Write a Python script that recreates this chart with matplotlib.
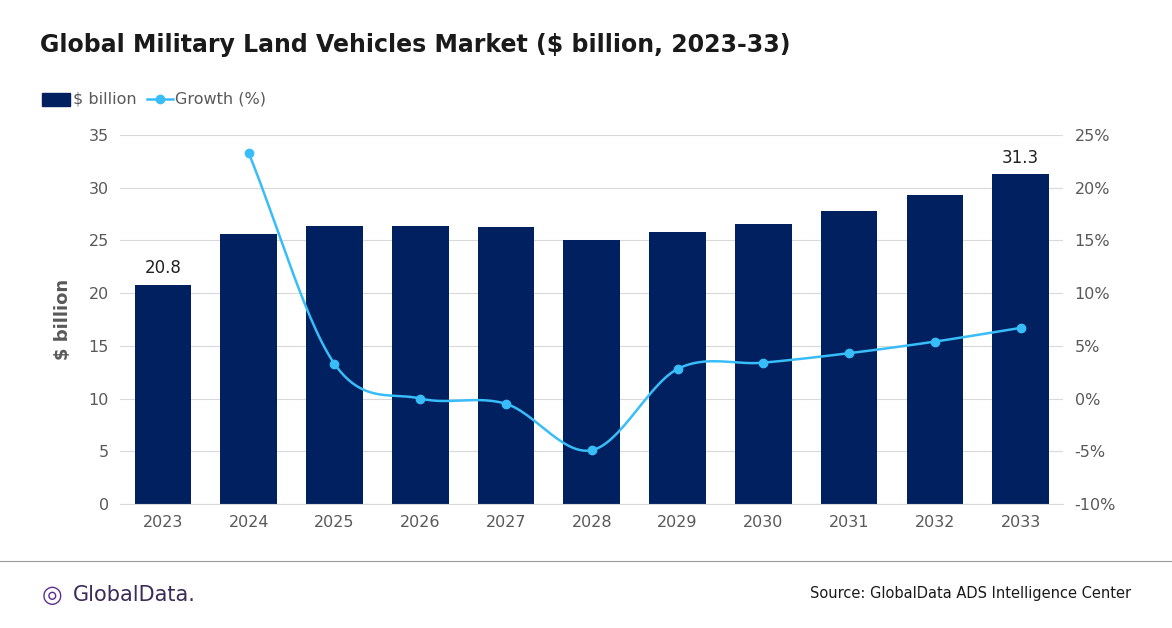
import matplotlib
matplotlib.use('Agg')
import matplotlib.pyplot as plt
import numpy as np

years = ['2023', '2024', '2025', '2026', '2027', '2028', '2029', '2030', '2031', '2032', '2033']
market = [20.8, 25.6, 26.4, 26.4, 26.3, 25.0, 25.8, 26.6, 27.8, 29.3, 31.3]
growth_years = years[1:]
growth = [23.3, 3.3, 0.0, -0.5, -4.9, 2.8, 3.4, 4.3, 5.4, 6.7]

NAVY = '#002060'
CYAN = '#38bdf8'
GREY = '#595959'


def smooth(x, y, n=30):
    # catmull-rom path through the points, like the smoothed excel line
    x = np.asarray(x, float)
    y = np.asarray(y, float)
    px = np.concatenate([[2 * x[0] - x[1]], x, [2 * x[-1] - x[-2]]])
    py = np.concatenate([[2 * y[0] - y[1]], y, [2 * y[-1] - y[-2]]])
    xs, ys = [], []
    t = np.linspace(0, 1, n)
    for i in range(1, len(px) - 2):
        for p, out in ((px, xs), (py, ys)):
            p0, p1, p2, p3 = p[i - 1], p[i], p[i + 1], p[i + 2]
            out.extend(0.5 * (2 * p1 + (-p0 + p2) * t + (2 * p0 - 5 * p1 + 4 * p2 - p3) * t ** 2
                              + (-p0 + 3 * p1 - 3 * p2 + p3) * t ** 3))
    return xs, ys


fig = plt.figure(figsize=(11.72, 6.28), dpi=100)
ax = fig.add_axes([0.1024, 0.1975, 0.805, 0.5876])
x = np.arange(len(years))
ax.bar(x, market, 0.66, color=NAVY, zorder=2, label='$ billion')
ax.set_ylim(0, 35)
ax.set_xlim(-0.5, len(years) - 0.5)
ax.set_yticks(range(0, 36, 5))
ax.grid(axis='y', color='#d9d9d9', lw=0.8, zorder=0)
for s in ['top', 'right', 'left']:
    ax.spines[s].set_visible(False)
ax.spines['bottom'].set_color('#d9d9d9')
ax.set_xticks(x)
ax.set_xticklabels(years)
ax.tick_params(length=0, labelsize=11.5, colors=GREY, pad=8)
ax.set_ylabel('$ billion', fontsize=13, color=GREY, fontweight='bold', labelpad=12)
for i in (0, len(years) - 1):
    ax.text(x[i], market[i] + 0.7, f'{market[i]:.1f}', ha='center', va='bottom', fontsize=12, color='#222222')

ax2 = ax.twinx()
ax2.set_ylim(-10, 25)
ax2.set_yticks(range(-10, 26, 5))
ax2.set_yticklabels([f'{v}%' for v in range(-10, 26, 5)])
ax2.tick_params(length=0, labelsize=11.5, colors=GREY, pad=8)
for s in ax2.spines.values():
    s.set_visible(False)
gx = x[1:]
sx, sy = smooth(gx, growth)
ax2.plot(sx, sy, color=CYAN, lw=1.8, zorder=3)
ax2.plot(gx, growth, 'o', color=CYAN, ms=6, zorder=4)

fig.text(0.034, 0.928, 'Global Military Land Vehicles Market ($ billion, 2023-33)', fontsize=17,
         fontweight='bold', color='#1a1a1a', va='center')
# legend
fig.patches.append(plt.Rectangle((0.036, 0.832), 0.024, 0.02, transform=fig.transFigure, color=NAVY))
fig.text(0.062, 0.842, '$ billion', fontsize=11.5, color=GREY, va='center')
fig.lines.append(plt.Line2D([0.125, 0.148], [0.842, 0.842], transform=fig.transFigure, color=CYAN, lw=1.8))
fig.lines.append(plt.Line2D([0.1365], [0.842], transform=fig.transFigure, color=CYAN, marker='o', ms=6))
fig.text(0.149, 0.842, 'Growth (%)', fontsize=11.5, color=GREY, va='center')

fig.lines.append(plt.Line2D([0, 1], [0.107, 0.107], transform=fig.transFigure, color='#999999', lw=0.8))
fig.text(0.036, 0.052, '◎', fontsize=17, color='#5b2d8e', va='center')
fig.text(0.062, 0.052, 'GlobalData.', fontsize=15, color='#3b2a5a', va='center')
fig.text(0.965, 0.055, 'Source: GlobalData ADS Intelligence Center', fontsize=10.5, color='#1a1a1a',
         ha='right', va='center')

fig.savefig('out.png', dpi=100)
